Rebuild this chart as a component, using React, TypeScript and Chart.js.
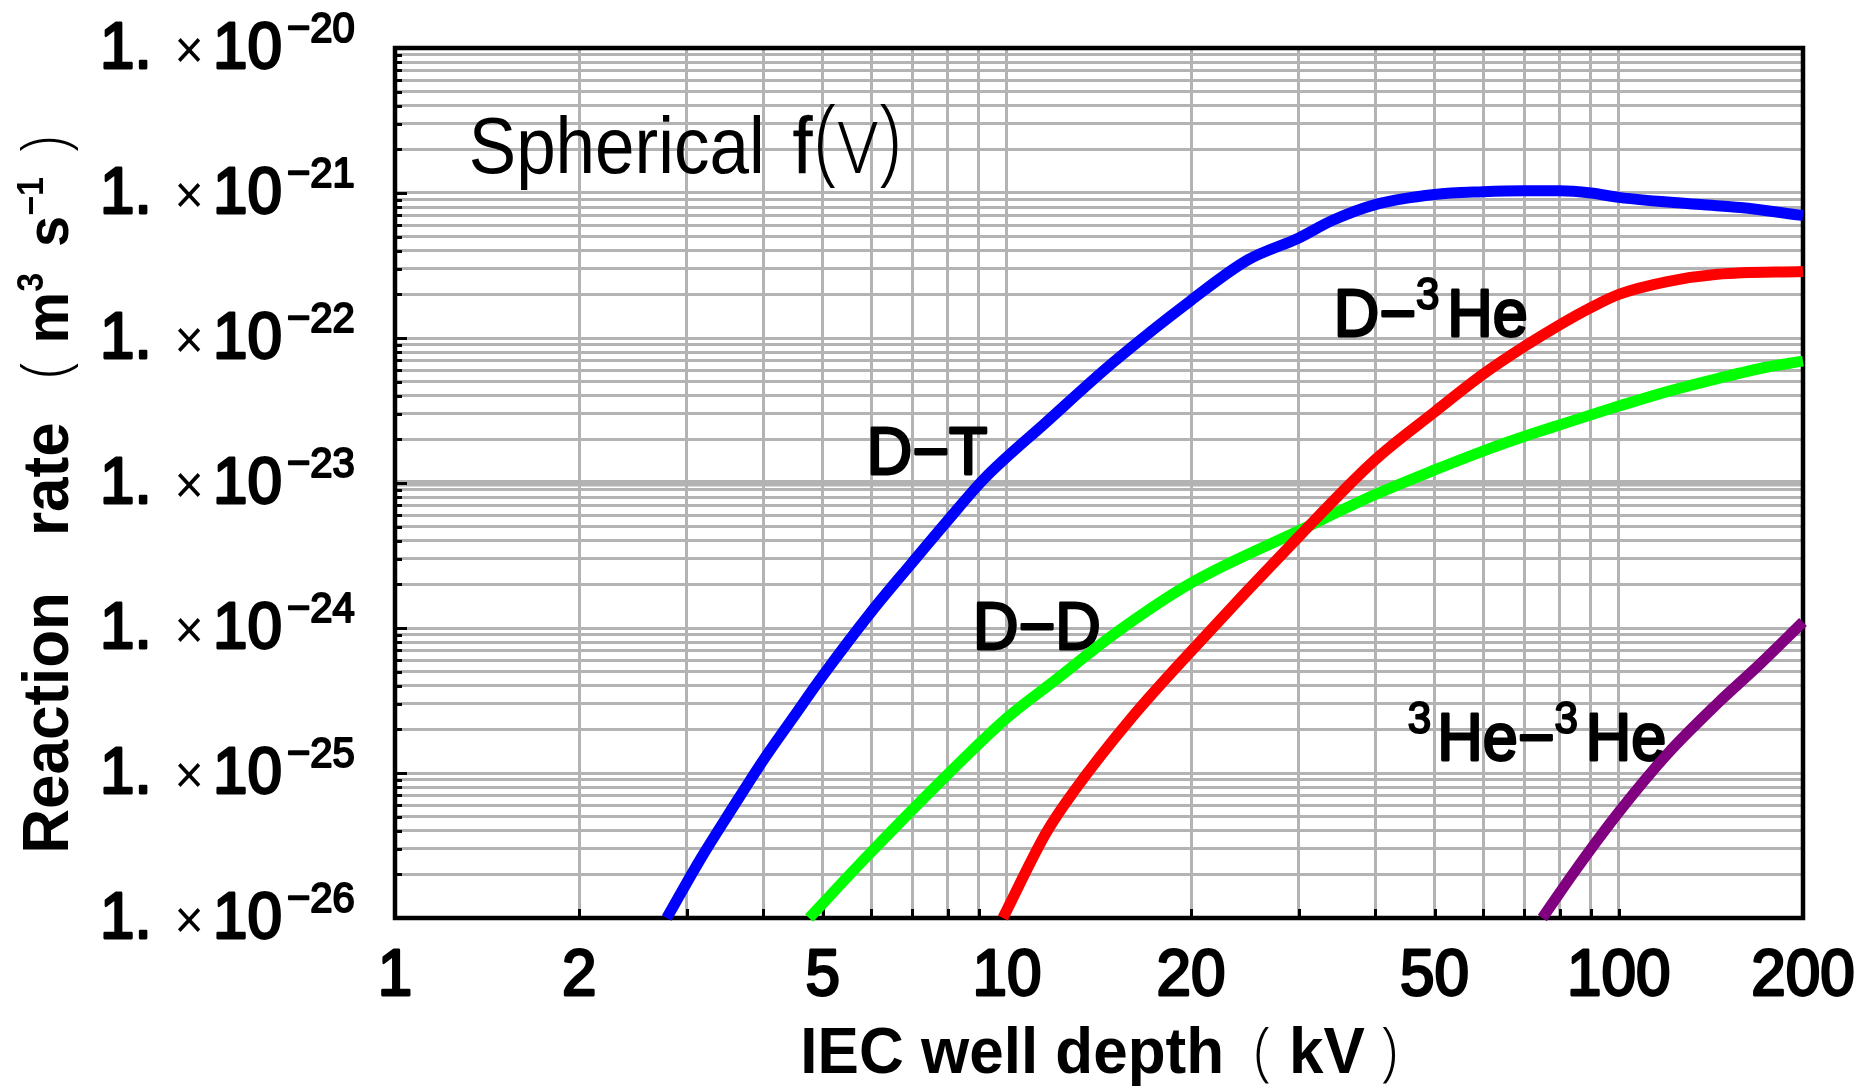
import React, { useEffect, useRef } from "react";
import { Chart, registerables } from "chart.js";

Chart.register(...registerables);

// ---------------- data ----------------
const dtX = [2.78, 3.16, 3.55, 4.0, 4.47, 5.0, 6.0, 7.0, 8.0, 9.18, 11.6, 14.9, 20, 24.8, 30, 34, 40, 50, 60, 70, 80, 90, 100, 136, 158, 200];
const dtY = [1e-26, 2.57e-26, 5.62e-26, 1.23e-25, 2.4e-25, 4.68e-25, 1.29e-24, 2.82e-24, 5.5e-24, 1.07e-23, 2.63e-23, 6.76e-23, 1.82e-22, 3.47e-22, 4.9e-22, 6.46e-22, 8.32e-22, 9.77e-22, 1.02e-21, 1.035e-21, 1.035e-21, 1.0e-21, 9.33e-22, 8.32e-22, 7.94e-22, 7.0e-22];

const dheX = [9.85, 11.6, 12.9, 15.9, 20, 30, 40, 50, 60, 70, 80, 90, 100, 120, 145, 200];
const dheY = [1e-26, 3.89e-26, 7.59e-26, 2.34e-25, 6.92e-25, 4.27e-24, 1.45e-23, 3.09e-23, 5.62e-23, 8.71e-23, 1.23e-22, 1.62e-22, 2.0e-22, 2.45e-22, 2.75e-22, 2.88e-22];

const ddX = [4.75, 6, 8, 10, 12, 15, 20, 30, 40, 50, 60, 70, 80, 90, 100, 120, 145, 175, 200];
const ddY = [1e-26, 2.85e-26, 9.77e-26, 2.4e-25, 4.37e-25, 9.12e-25, 2.04e-24, 4.68e-24, 8.32e-24, 1.23e-23, 1.66e-23, 2.09e-23, 2.51e-23, 2.95e-23, 3.39e-23, 4.27e-23, 5.25e-23, 6.31e-23, 6.92e-23];

const hehX = [75, 85, 100, 120, 145, 170, 200];
const hehY = [1e-26, 2.14e-26, 5.37e-26, 1.35e-25, 3.02e-25, 5.62e-25, 1.1e-24];

const xGridValues = [1, 2, 3, 4, 5, 6, 7, 8, 9, 10, 20, 30, 40, 50, 60, 70, 80, 90, 100, 200];
const xLabelValues = [1, 2, 5, 10, 20, 50, 100, 200];
const xLabelTexts = ["1", "2", "5", "10", "20", "50", "100", "200"];
const yExponents = [-20, -21, -22, -23, -24, -25, -26];

// ---------------- styling ----------------
const FONT = "'Liberation Sans', Arial, Helvetica, sans-serif";
const THIN = "'Open Sans', 'Liberation Sans', sans-serif";
const B = (s: number) => `bold ${s}px ${FONT}`;
const R = (s: number) => `normal ${s}px ${FONT}`;
const L = (s: number) => `300 ${s}px ${THIN}`;

type Run = { t?: string; f?: string; dy?: number; gap?: number; w?: number };

function runsWidth(ctx: CanvasRenderingContext2D, runs: Run[]) {
  let w = 0;
  for (const r of runs) {
    if (r.gap) w += r.gap;
    if (r.t) {
      ctx.font = r.f as string;
      w += ctx.measureText(r.t).width;
    }
  }
  return w;
}

function drawRuns(ctx: CanvasRenderingContext2D, runs: Run[], x: number, y: number, align: "left" | "center" | "right", sy = 1) {
  const w = runsWidth(ctx, runs);
  let cx = align === "center" ? x - w / 2 : align === "right" ? x - w : x;
  for (const r of runs) {
    if (r.gap) cx += r.gap;
    if (r.t) {
      ctx.font = r.f as string;
      ctx.save();
      ctx.translate(cx, y + (r.dy || 0));
      ctx.scale(1, sy);
      ctx.fillText(r.t, 0, 0);
      if (r.w) {
        ctx.lineWidth = r.w;
        ctx.lineJoin = "round";
        ctx.strokeText(r.t, 0, 0);
      }
      ctx.restore();
      cx += ctx.measureText(r.t).width;
    }
  }
}

const LBL = (t: string): Run => ({ t, f: R(63), w: 2.6 });
const SUP = (t: string): Run => ({ t, f: R(42), dy: -27, w: 2 });

const annotations: { runs: Run[]; x: number; y: number; sy: number }[] = [
  { runs: [{ t: "Spherical", f: R(71) }, { gap: 28 }, { t: "f", f: R(71), w: 0.5 }, { gap: 2 }, { t: "(v)", f: L(86) }], x: 1.32, y: 1.37e-21, sy: 1.12 },
  { runs: [LBL("D\u2212T")], x: 5.9, y: 1.15e-23, sy: 1.06 },
  { runs: [LBL("D\u2212D")], x: 8.8, y: 7.2e-25, sy: 1.06 },
  { runs: [LBL("D\u2212"), SUP("3"), { gap: 8 }, LBL("He")], x: 34.2, y: 1.03e-22, sy: 1.06 },
  { runs: [SUP("3"), { gap: 6 }, LBL("He\u2212"), SUP("3"), { gap: 8 }, LBL("He")], x: 45.2, y: 1.23e-25, sy: 1.06 },
];

const textPlugin = {
  id: "textPlugin",
  beforeDatasetsDraw(chart: any) {
    const ctx: CanvasRenderingContext2D = chart.ctx;
    const { left, right, top, bottom } = chart.chartArea;
    const xs = chart.scales.x;
    const ys = chart.scales.y;
    ctx.save();
    ctx.fillStyle = "#000";
    ctx.strokeStyle = "#000";
    ctx.textBaseline = "alphabetic";
    ctx.textAlign = "left";

    // frame
    ctx.lineWidth = 4.5;
    ctx.strokeRect(left, top, right - left, bottom - top);

    // tick marks (inside)
    ctx.lineWidth = 3;
    for (const v of xGridValues) {
      if (v === 1 || v === 200) continue;
      const px = Math.round(xs.getPixelForValue(v)) + 0.5;
      ctx.beginPath();
      ctx.moveTo(px, bottom);
      ctx.lineTo(px, bottom - 9);
      ctx.stroke();
    }
    for (const t of ys.ticks) {
      const v = t.value;
      const lg = Math.log10(v);
      const major = Math.abs(lg - Math.round(lg)) < 1e-6;
      const py = Math.round(ys.getPixelForValue(v)) + 0.5;
      ctx.beginPath();
      ctx.moveTo(left, py);
      ctx.lineTo(left + (major ? 12 : 7), py);
      ctx.stroke();
    }

    // y tick labels  1. x 10^-n
    for (const e of yExponents) {
      const py = ys.getPixelForValue(Math.pow(10, e));
      drawRuns(ctx, [{ t: "1.", f: R(62), w: 2.6 }], 100, py + 20, "left", 1.06);
      drawRuns(ctx, [{ t: "\u00d7", f: R(50) }], 189, py + 20, "center", 1.06);
      drawRuns(ctx, [{ t: "10", f: R(62), w: 2.6 }], 213, py + 20, "left", 1.06);
      drawRuns(ctx, [{ t: "\u2212" + String(-e), f: R(40), w: 2 }], 287, py - 6, "left", 1.06);
    }

    // x tick labels
    xLabelValues.forEach((v, i) => {
      const px = xs.getPixelForValue(v);
      drawRuns(ctx, [{ t: xLabelTexts[i], f: R(62), w: 2.6 }], px, bottom + 77, "center", 1.06);
    });

    // x title
    drawRuns(
      ctx,
      [{ t: "IEC well depth", f: B(62) }, { gap: 30 }, { t: "(", f: L(62) }, { gap: 18 }, { t: "kV", f: B(62) }, { gap: 16 }, { t: ")", f: L(62) }],
      (left + right) / 2,
      bottom + 155,
      "center",
      1.04
    );

    // y title (rotated)
    ctx.save();
    ctx.translate(68, (top + bottom) / 2 + 12);
    ctx.rotate(-Math.PI / 2);
    drawRuns(
      ctx,
      [
        { t: "Reaction", f: B(62) },
        { gap: 56 },
        { t: "rate", f: B(62) },
        { gap: 44 },
        { t: "(", f: L(62) },
        { gap: 18 },
        { t: "m", f: B(58) },
        { t: "3", f: B(34), dy: -25 },
        { gap: 26 },
        { t: "s", f: B(56) },
        { t: "\u22121", f: B(34), dy: -25 },
        { gap: 24 },
        { t: ")", f: L(62) },
      ],
      0,
      0,
      "center",
      1.06
    );
    ctx.restore();

    // curve annotations
    for (const a of annotations) {
      const px = xs.getPixelForValue(a.x);
      const py = ys.getPixelForValue(a.y);
      drawRuns(ctx, a.runs, px, py, "left", a.sy);
    }
    ctx.restore();
  },
};

function pts(xs: number[], ys: number[]) {
  return xs.map((x, i) => ({ x, y: ys[i] }));
}

export default function App() {
  const ref = useRef<HTMLCanvasElement | null>(null);
  useEffect(() => {
    if (!ref.current) return;
    const yGrid: number[] = [];
    for (let e = -26; e <= -21; e++) {
      for (let k = 1; k <= 9; k++) yGrid.push(k * Math.pow(10, e));
    }
    yGrid.push(1e-20);
    const common = {
      pointRadius: 0,
      borderWidth: 11,
      fill: false,
      cubicInterpolationMode: "monotone" as const,
      borderCapStyle: "butt" as const,
      clip: { left: 0, top: 0, right: 7, bottom: 4 },
    };
    const chart = new Chart(ref.current, {
      type: "line",
      data: {
        datasets: [
          { ...common, label: "D\u2212T", data: pts(dtX, dtY), borderColor: "#0000ff" },
          { ...common, label: "D\u2212\u00b3He", data: pts(dheX, dheY), borderColor: "#ff0000" },
          { ...common, label: "D\u2212D", data: pts(ddX, ddY), borderColor: "#00ff00" },
          { ...common, label: "\u00b3He\u2212\u00b3He", data: pts(hehX, hehY), borderColor: "#800080" },
        ],
      },
      options: {
        responsive: false,
        animation: false,
        layout: { padding: { left: 395, top: 48, right: 72, bottom: 168 } },
        plugins: { legend: { display: false }, tooltip: { enabled: false }, title: { display: false } },
        scales: {
          x: {
            type: "logarithmic",
            min: 1,
            max: 200,
            afterBuildTicks: (s: any) => {
              s.ticks = xGridValues.map((v) => ({ value: v }));
            },
            ticks: { display: false, callback: () => "" },
            grid: { color: "#b3b3b3", lineWidth: 3, drawTicks: false },
            border: { display: false },
          },
          y: {
            type: "logarithmic",
            min: 1e-26,
            max: 1e-20,
            afterBuildTicks: (s: any) => {
              s.ticks = yGrid.map((v) => ({ value: v }));
            },
            ticks: { display: false, callback: () => "" },
            grid: {
              color: "#b3b3b3",
              drawTicks: false,
              lineWidth: (c: any) => (c.tick && Math.abs(Math.log10(c.tick.value) + 23) < 1e-6 ? 6.5 : 3),
            },
            border: { display: false },
          },
        },
      },
      plugins: [textPlugin],
    } as any);
    return () => chart.destroy();
  }, []);

  return (
    <div style={{ position: "fixed", left: 0, top: 0, width: 1875, height: 1086, background: "#fff" }}>
      <canvas ref={ref} width={1875} height={1086} style={{ width: 1875, height: 1086, display: "block" }} />
    </div>
  );
}
